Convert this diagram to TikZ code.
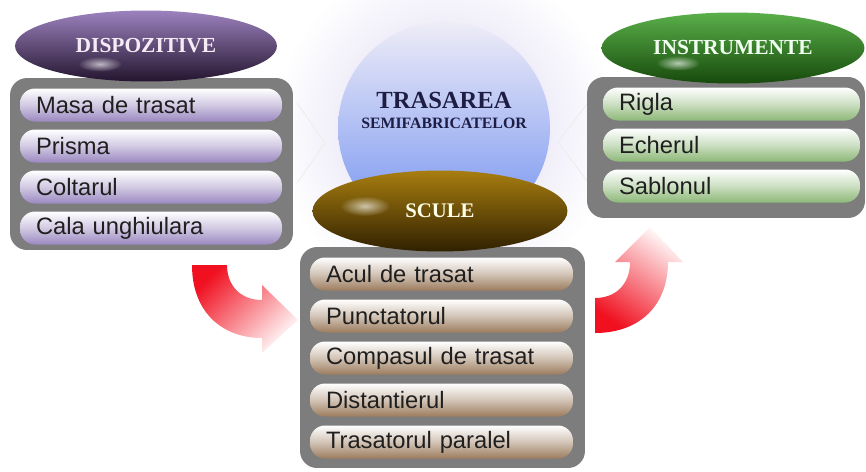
\documentclass[tikz,border=0pt]{standalone}
\usepackage{fontspec}
\setmainfont{Liberation Serif}
\setsansfont{Liberation Sans}
\usetikzlibrary{shapes.geometric,fadings}

\definecolor{panelgray}{HTML}{7D7D7D}
\definecolor{lavpill}{HTML}{9A88C0}
\definecolor{brownpill}{HTML}{9C7C5E}
\definecolor{greenpill}{HTML}{8DB878}
\definecolor{violetA}{HTML}{9C82BE}
\definecolor{violetB}{HTML}{785A98}
\definecolor{violetC}{HTML}{24152F}
\definecolor{greenA}{HTML}{5AB04A}
\definecolor{greenB}{HTML}{3A8A2A}
\definecolor{greenC}{HTML}{174A0C}
\definecolor{goldA}{HTML}{A87E10}
\definecolor{goldB}{HTML}{8A6408}
\definecolor{goldC}{HTML}{302000}
\definecolor{spheretop}{HTML}{EEECF7}
\definecolor{spheremid}{HTML}{AA9EDA}
\definecolor{spherebot}{HTML}{7090F0}
\definecolor{halocol}{HTML}{D8D2EE}
\definecolor{navytext}{HTML}{1E1E44}
\definecolor{arrowred}{HTML}{F01020}

\tikzfading[name=softspot, inner color=transparent!0, outer color=transparent!100]

\begin{document}
\begin{tikzpicture}[x=0.02cm, y=-0.02cm,
    pill/.style 2 args={rectangle, rounded corners=0.3cm, minimum height=0.66cm,
      inner xsep=0.32cm, inner ysep=0pt, text width=#2, align=left,
      top color=white, bottom color=#1, middle color=white!55!#1,
      font=\sffamily\fontsize{13.5}{15}\selectfont, text=black!88},
    panel/.style={rectangle, rounded corners=0.34cm, fill=panelgray, inner sep=0pt},
    oval/.style n args={3}{ellipse, minimum width=5.24cm, minimum height=1.42cm,
      top color=#1, middle color=#2, bottom color=#3,
      font=\bfseries\fontsize{12.2}{14}\selectfont},
    shine/.style={white, opacity=.65, path fading=softspot}]
\useasboundingbox (0,0) rectangle (866,471);

% glow and sphere in the middle
\fill[halocol, path fading=softspot] (444,128) circle (3.4cm);
\draw[gray!14, line width=0.5pt] (297,103) -- (325,143) -- (297,183);
\draw[gray!14, line width=0.5pt] (590,100) -- (558,142) -- (590,185);
\node[circle, minimum size=4.24cm, top color=spheretop, middle color=spheremid,
      bottom color=spherebot] (sphere) at (444,128) {};
\node[font=\bfseries\fontsize{14}{16}\selectfont, text=navytext] (trasarea) at (444,100) {TRASAREA};
\node[font=\bfseries\fontsize{9}{11}\selectfont, text=navytext] (semifab) at (444,123) {SEMIFABRICATELOR};

% Dispozitive
\node[panel, minimum width=5.66cm, minimum height=3.44cm] (leftpanel) at (151.5,164) {};
\foreach \txt [count=\i] in {Masa de trasat, Prisma, Coltarul, Cala unghiulara} {
    \node[pill={lavpill}{4.6cm}] (disp\i) at (151,{64+41*\i}) {\txt};
}
\node[oval={violetA}{violetB}{violetC}, text=violet!8] (dispozitive) at (146,46) {DISPOZITIVE};
\fill[shine] (100,64) ellipse (0.44cm and 0.15cm);

% Instrumente
\node[panel, minimum width=5.56cm, minimum height=2.82cm] (rightpanel) at (726,147.5) {};
\foreach \txt [count=\i] in {Rigla, Echerul, Sablonul} {
    \node[pill={greenpill}{4.5cm}] (instr\i) at (731.5,{63+41*\i}) {\txt};
}
\node[oval={greenA}{greenB}{greenC}, minimum width=5.26cm, text=green!6] (instrumente) at (733,48) {INSTRUMENTE};
\fill[shine] (678,63) ellipse (0.44cm and 0.15cm);

% Scule
\node[panel, minimum width=5.7cm, minimum height=4.42cm] (midpanel) at (442.5,357.5) {};
\foreach \txt [count=\i] in {Acul de trasat, Punctatorul, Compasul de trasat, Distantierul, Trasatorul paralel} {
    \node[pill={brownpill}{4.62cm}] (scula\i) at (441.5,{232+42*\i}) {\txt};
}
\node[oval={goldA}{goldB}{goldC}, minimum width=5.1cm, minimum height=1.62cm,
      font=\bfseries\fontsize{11.8}{14}\selectfont, text=yellow!10] (scule) at (440,211) {SCULE};
\fill[shine] (365,206) ellipse (0.5cm and 0.2cm);

% curved arrows
\shade[top color=arrowred, bottom color=red!3, shading angle=45]
  (192,265) .. controls (192,312) and (222,338) .. (262,338) -- (262,353) -- (298,320)
  -- (262,285) -- (262,300) .. controls (240,300) and (227,285) .. (227,265) -- cycle;
\shade[top color=red!3, bottom color=arrowred, shading angle=-35]
  (595,333) .. controls (640,333) and (668,305) .. (668,262) -- (683,262) -- (650,227)
  -- (615,262) -- (630,262) .. controls (630,285) and (615,298) .. (595,298) -- cycle;
\end{tikzpicture}
\end{document}
